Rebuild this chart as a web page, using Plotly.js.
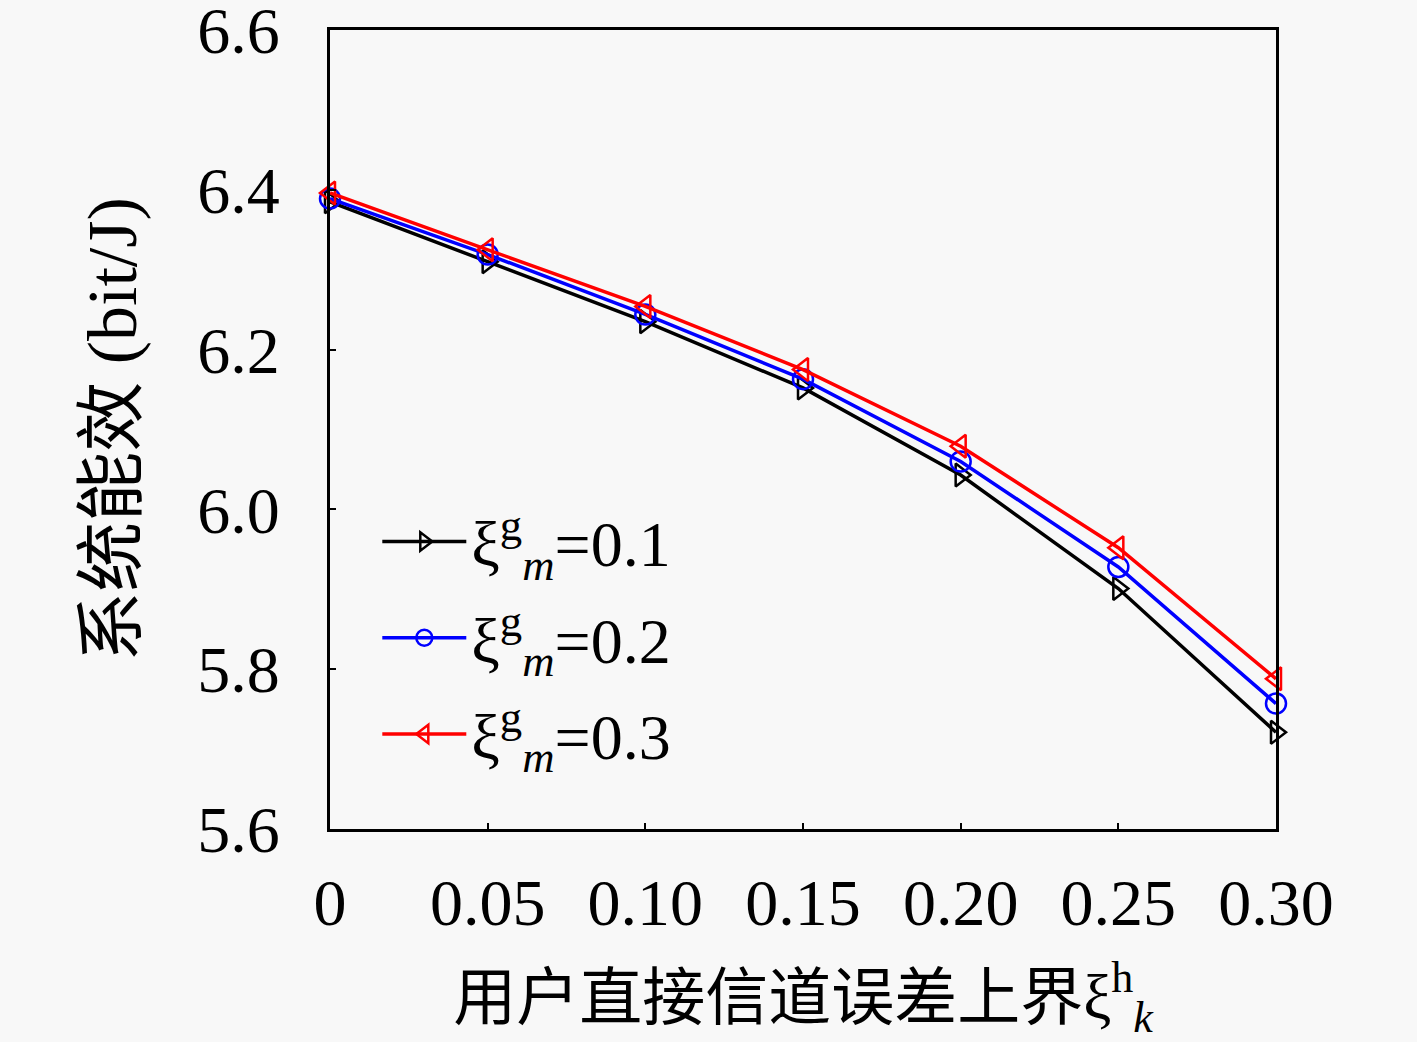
<!DOCTYPE html>
<html>
<head>
<meta charset="utf-8">
<script src="https://cdn.plot.ly/plotly-3.0.1.min.js"></script>
<style>
  html, body { margin: 0; padding: 0; background: #f8f8f8; }
  #chart { width: 1417px; height: 1042px; }
</style>
</head>
<body>
<div id="chart"></div>
<script>
// 系统能效 vs 用户直接信道误差上界
const xVals   = [0, 0.05, 0.10, 0.15, 0.20, 0.25, 0.30];
const xTicks  = ['0', '0.05', '0.10', '0.15', '0.20', '0.25', '0.30'];
const yTickV  = [5.6, 5.8, 6.0, 6.2, 6.4, 6.6];
const yTicks  = ['5.6', '5.8', '6.0', '6.2', '6.4', '6.6'];
const yXi01   = [6.385, 6.310, 6.235, 6.152, 6.043, 5.901, 5.721];
const yXi02   = [6.389, 6.319, 6.244, 6.163, 6.060, 5.928, 5.757];
const yXi03   = [6.396, 6.325, 6.254, 6.175, 6.079, 5.952, 5.788];
const names   = ['0.1', '0.2', '0.3'];

const FONT = 'Liberation Serif, "Noto Sans CJK SC", serif';

function series(y, label, color, symbol) {
  return {
    type: 'scatter', mode: 'lines+markers',
    x: xVals, y: y,
    name: 'ξ<sup>g</sup><sub><i>m</i></sub>=' + label,
    legendgroup: label,
    line: { color: color, width: 3.5 },
    marker: { symbol: symbol, size: 20, color: color, line: { color: color, width: 2.5 } },
    cliponaxis: false,
  };
}

const traces = [
  series(yXi01, names[0], '#000000', 'triangle-right-open'),
  series(yXi02, names[1], '#0000ff', 'circle-open'),
  series(yXi03, names[2], '#ff0000', 'triangle-left-open'),
];

const layout = {
  width: 1417, height: 1042,
  margin: { l: 330, r: 141, t: 30, b: 213 },
  paper_bgcolor: '#f8f8f8', plot_bgcolor: '#f8f8f8',
  font: { family: FONT, size: 64, color: '#000' },
  showlegend: true,
  legend: {
    x: 0.05, y: 0.42, xanchor: 'left', yanchor: 'top',
    bgcolor: 'rgba(0,0,0,0)', borderwidth: 0,
    font: { family: FONT, size: 64 },
    traceorder: 'grouped', tracegroupgap: 10,
    itemwidth: 84,
  },
  xaxis: {
    range: [0, 0.30],
    tickvals: xVals, ticktext: xTicks,
    ticks: 'inside', ticklen: 6, tickwidth: 2, tickcolor: '#000',
    ticklabelstandoff: 14,
    showline: true, linecolor: '#000', linewidth: 3, mirror: true,
    showgrid: false, zeroline: false,
    tickfont: { family: FONT, size: 66 },
    title: { text: '用户直接信道误差上界ξ<sup>h</sup><sub><i>k</i></sub>', standoff: 41,
             font: { family: FONT, size: 63 } },
  },
  yaxis: {
    range: [5.6, 6.6],
    tickvals: yTickV, ticktext: yTicks,
    ticks: 'inside', ticklen: 6, tickwidth: 2, tickcolor: '#000',
    ticklabelstandoff: 34, ticklabeloverflow: 'allow',
    showline: true, linecolor: '#000', linewidth: 3, mirror: true,
    showgrid: false, zeroline: false,
    tickfont: { family: FONT, size: 66 },
    title: { text: '系统能效 (bit/J)', standoff: 38,
             font: { family: FONT, size: 70 } },
  },
};

Plotly.newPlot('chart', traces, layout, { displayModeBar: false, staticPlot: true });
</script>
</body>
</html>
